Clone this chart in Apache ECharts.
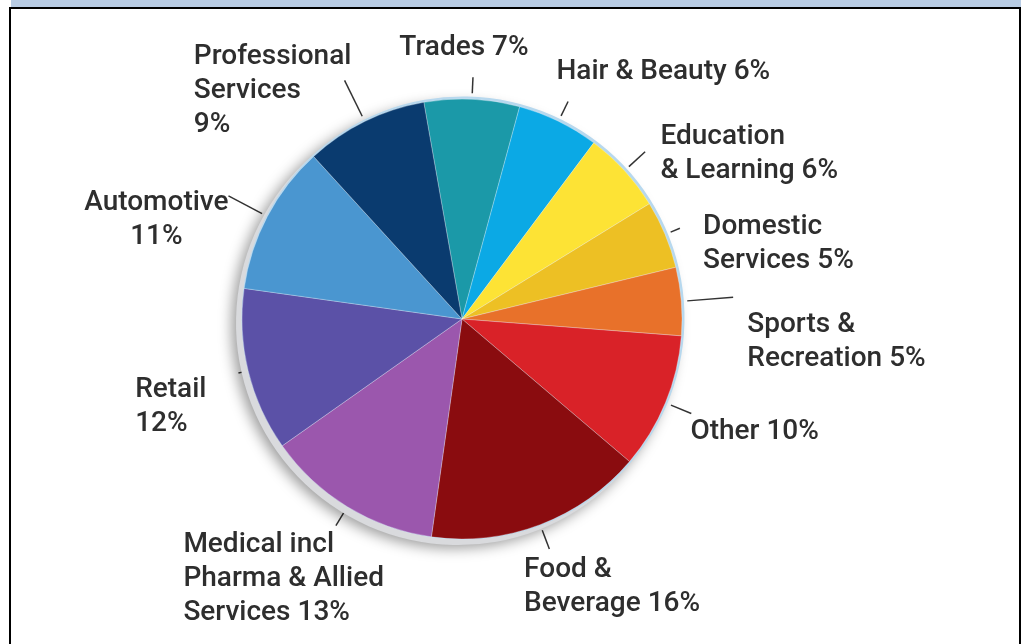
<!DOCTYPE html>
<html>
<head>
<meta charset="utf-8">
<script src="https://cdn.jsdelivr.net/npm/echarts@6/dist/echarts.min.js"></script>
<style>
  html, body { margin: 0; padding: 0; background: #ffffff; }
  #topband { position: absolute; left: 11px; top: 0; width: 1010px; height: 7px; background: #b8cce4; }
  #frame { position: absolute; left: 9px; top: 7px; width: 1008px; height: 660px; border: 2px solid #000; border-bottom: none; }
  #chart { position: absolute; left: 0; top: 0; width: 1024px; height: 644px; }
</style>
</head>
<body>
<div id="topband"></div>
<div id="frame"></div>
<div id="chart"></div>
<script>
// Business sectors, clockwise from the top of the pie
const categories = [
  'Trades', 'Hair & Beauty', 'Education & Learning', 'Domestic Services',
  'Sports & Recreation', 'Other', 'Food & Beverage',
  'Medical incl Pharma & Allied Services', 'Retail', 'Automotive',
  'Professional Services'
];

// Share of businesses per sector (%)
const shares = [7, 6, 6, 5, 5, 10, 16, 13, 12, 11, 9];

// Label text, {v} is replaced with the sector's share
const labelTemplates = [
  'Trades {v}%', 'Hair & Beauty {v}%', 'Education\n& Learning {v}%',
  'Domestic\nServices {v}%', 'Sports &\nRecreation {v}%', 'Other {v}%',
  'Food &\nBeverage {v}%', 'Medical incl\nPharma & Allied\nServices {v}%',
  'Retail\n{v}%', 'Automotive\n{v}%', 'Professional\nServices\n{v}%'
];

const sliceColors = [
  '#1b99a8', '#0ba9e5', '#fde335', '#edc024', '#e8712a', '#d92228',
  '#8a0c0f', '#9b57ad', '#5b51a7', '#4a96d0', '#0a3b6f'
];

// Label placement relative to where each leader tick leaves the pie
const labelPlacement = [
  { align: 'center', dx: -8,   dy: -68, tick: 22 },
  { align: 'left',   dx: -2,   dy: -66, tick: 22 },
  { align: 'left',   dx: 36,   dy: -51, tick: 28 },
  { align: 'left',   dx: 38,   dy: -24, tick: 16 },
  { align: 'left',   dx: 66,   dy: 7,   tick: 52 },
  { align: 'left',   dx: 25,   dy: 12,  tick: 28 },
  { align: 'left',   dx: -16,  dy: 28,  tick: 26 },
  { align: 'left',   dx: -164, dy: 21,  tick: 22 },
  { align: 'left',   dx: -113, dy: 2,   tick: 10 },
  { align: 'center', dx: -111, dy: -30, tick: 44 },
  { align: 'left',   dx: -171, dy: -82, tick: 46 }
];
const tickGap = 6;

const total = shares.reduce((a, b) => a + b, 0);
const pieCenter = [462, 319];
const pieRadius = 220;
const startAngle = 100;

const chart = echarts.init(document.getElementById('chart'), null, { renderer: 'canvas' });

chart.setOption({
  backgroundColor: 'transparent',
  animation: false,
  series: [
    {
      // soft base under the pie, showing as a grey rim on the lower left
      type: 'pie',
      silent: true,
      center: [pieCenter[0] - 4, pieCenter[1] + 4],
      radius: pieRadius + 2,
      startAngle: startAngle,
      label: { show: false },
      labelLine: { show: false },
      itemStyle: {
        color: '#d9dadd',
        shadowColor: 'rgba(0,0,0,0.4)',
        shadowBlur: 14,
        shadowOffsetX: -4,
        shadowOffsetY: 3
      },
      data: [{ value: total, name: 'base' }]
    },
    {
      // thin light rim on the upper right
      type: 'pie',
      silent: true,
      center: [pieCenter[0] + 1, pieCenter[1] - 1],
      radius: pieRadius + 1.5,
      startAngle: startAngle,
      label: { show: false },
      labelLine: { show: false },
      itemStyle: { color: '#b7d8ee' },
      data: [{ value: total, name: 'rim' }]
    },
    {
      type: 'pie',
      silent: true,
      center: pieCenter,
      radius: pieRadius,
      startAngle: startAngle,
      clockwise: true,
      avoidLabelOverlap: false,
      itemStyle: { borderColor: 'rgba(255,255,255,0.35)', borderWidth: 0.8 },
      label: {
        show: true,
        position: 'outside',
        fontFamily: 'Roboto',
        fontWeight: 500,
        fontSize: 28,
        lineHeight: 34,
        color: '#2e2e2e',
        formatter: function (p) {
          return labelTemplates[p.dataIndex].replace('{v}', p.value);
        }
      },
      labelLine: {
        show: true,
        length2: 0,
        smooth: false,
        lineStyle: { color: '#333333', width: 1.5 }
      },
      labelLayout: function (params) {
        const place = labelPlacement[params.dataIndex];
        const pts = params.labelLinePoints;
        if (!place || !pts) return {};
        const a = pts[0], b = pts[1];
        const len = Math.hypot(b[0] - a[0], b[1] - a[1]) || 1;
        const ux = (b[0] - a[0]) / len, uy = (b[1] - a[1]) / len;
        const s = [a[0] + ux * tickGap, a[1] + uy * tickGap];
        return {
          x: a[0] + place.dx,
          y: a[1] + place.dy,
          align: place.align,
          verticalAlign: 'top',
          labelLinePoints: [s, b, b]
        };
      },
      data: categories.map(function (name, i) {
        return {
          name: name,
          value: shares[i],
          itemStyle: { color: sliceColors[i] },
          labelLine: { length: labelPlacement[i].tick }
        };
      })
    }
  ]
});
</script>
</body>
</html>
